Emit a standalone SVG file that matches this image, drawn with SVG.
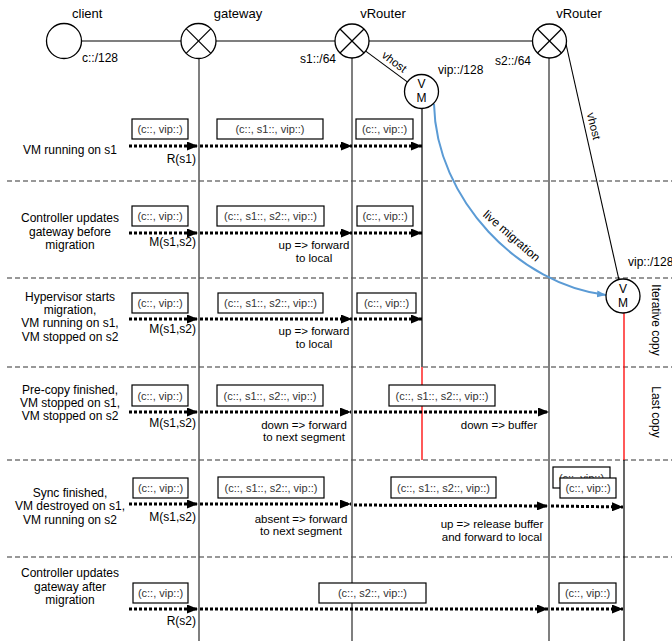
<svg xmlns="http://www.w3.org/2000/svg" width="672" height="641" viewBox="0 0 672 641">
<defs>
<marker id="ah" markerUnits="userSpaceOnUse" markerWidth="11" markerHeight="9" refX="11" refY="4.5" orient="auto"><path d="M0,0 L11,4.5 L0,9 z" fill="#000"/></marker>
<marker id="bh" markerUnits="userSpaceOnUse" markerWidth="9" markerHeight="7" refX="9" refY="3.5" orient="auto"><path d="M0,0 L9,3.5 L0,7 z" fill="#5B9BD5"/></marker>
<style>
text{font-family:"Liberation Sans",Arial,sans-serif;fill:#000}
.hd{font-size:13px}
.ad{font-size:12px}
.lb{font-size:12px;text-anchor:middle}
.an{font-size:11.5px}
.bx{fill:#fff;stroke:#000;stroke-width:1.2}
.bt{font-size:11px;fill:#333;text-anchor:middle}
.node{fill:#fff;stroke:#000;stroke-width:1.3}
.x{stroke:#000;stroke-width:1.2}
.sep{stroke:#333;stroke-width:1.2;stroke-dasharray:5 3;fill:none}
.life{stroke:#555;stroke-width:1.5}
.dot{stroke:#000;stroke-width:3;stroke-dasharray:3 2;fill:none;marker-end:url(#ah)}
.red{stroke:#f00;stroke-width:1.3}
</style>
</defs>

<g id="separators">
<line class="sep" x1="7" y1="181" x2="672" y2="181"/>
<line class="sep" x1="7" y1="278" x2="672" y2="278"/>
<line class="sep" x1="7" y1="367" x2="672" y2="367"/>
<line class="sep" x1="7" y1="460" x2="672" y2="460"/>
<line class="sep" x1="7" y1="557" x2="672" y2="557"/>
</g>

<g id="lifelines">
<line class="life" x1="199" y1="58" x2="199" y2="641"/>
<line class="life" x1="352" y1="58" x2="352" y2="641"/>
<line class="life" x1="549" y1="58" x2="549" y2="641"/>
<line stroke="#000" stroke-width="1.2" x1="422" y1="109" x2="422" y2="367"/>
<line class="red" x1="422" y1="367" x2="422" y2="460"/>
<line class="red" x1="624" y1="313" x2="624" y2="460"/>
<line stroke="#000" stroke-width="1.2" x1="624" y1="460" x2="624" y2="641"/>
</g>

<g id="connectors">
<line stroke="#000" stroke-width="1.2" x1="82" y1="41" x2="181" y2="41"/>
<line stroke="#000" stroke-width="1.2" x1="216" y1="41" x2="335" y2="41"/>
<line stroke="#000" stroke-width="1.2" x1="369" y1="41" x2="532" y2="41"/>
<line stroke="#000" stroke-width="1.1" x1="365.7" y1="51.1" x2="407.3" y2="81.9"/>
<line stroke="#000" stroke-width="1.1" x1="566" y1="44" x2="619" y2="280"/>
<path d="M434,104 C436,200 520,285 606,295" fill="none" stroke="#5B9BD5" stroke-width="2" marker-end="url(#bh)"/>
<!-- row 1 -->
<line class="dot" x1="129" y1="146" x2="198" y2="146"/>
<line class="dot" x1="200" y1="146" x2="352" y2="146"/>
<line class="dot" x1="354" y1="146" x2="422" y2="146"/>
<!-- row 2 -->
<line class="dot" x1="129" y1="233" x2="198" y2="233"/>
<line class="dot" x1="200" y1="233" x2="352" y2="233"/>
<line class="dot" x1="354" y1="233" x2="422" y2="233"/>
<!-- row 3 -->
<line class="dot" x1="129" y1="319" x2="198" y2="319"/>
<line class="dot" x1="200" y1="319" x2="352" y2="319"/>
<line class="dot" x1="354" y1="319" x2="422" y2="319"/>
<!-- row 4 -->
<line class="dot" x1="129" y1="412" x2="198" y2="412"/>
<line class="dot" x1="200" y1="412" x2="351" y2="412"/>
<line class="dot" x1="354" y1="412" x2="549" y2="412"/>
<!-- row 5 -->
<line class="dot" x1="129" y1="504" x2="198" y2="504"/>
<line class="dot" x1="200" y1="504" x2="351" y2="504"/>
<line class="dot" x1="354" y1="505" x2="548" y2="506"/>
<line class="dot" x1="551" y1="506" x2="623" y2="507"/>
<!-- row 6 -->
<line class="dot" x1="129" y1="609" x2="198" y2="609"/>
<line class="dot" x1="200" y1="609" x2="548" y2="609"/>
<line class="dot" x1="551" y1="609" x2="623" y2="609"/>
</g>

<g id="client">
<circle class="node" cx="64" cy="41" r="17.5"/>
<text class="hd" x="72" y="18">client</text>
<text class="ad" x="82" y="62">c::/128</text>
</g>
<g id="gateway">
<circle class="node" cx="198.5" cy="41" r="17.5"/>
<line class="x" x1="186.1" y1="28.6" x2="210.9" y2="53.4"/>
<line class="x" x1="210.9" y1="28.6" x2="186.1" y2="53.4"/>
<text class="hd" x="238" y="18" text-anchor="middle">gateway</text>
</g>
<g id="vrouter1">
<circle class="node" cx="352" cy="41" r="17"/>
<line class="x" x1="340" y1="29" x2="364" y2="53"/>
<line class="x" x1="364" y1="29" x2="340" y2="53"/>
<text class="hd" x="383" y="18" text-anchor="middle">vRouter</text>
<text class="ad" x="336" y="63" text-anchor="end">s1::/64</text>
</g>
<g id="vrouter2">
<circle class="node" cx="549.5" cy="41" r="17"/>
<line class="x" x1="537.5" y1="29" x2="561.5" y2="53"/>
<line class="x" x1="561.5" y1="29" x2="537.5" y2="53"/>
<text class="hd" x="579" y="18" text-anchor="middle">vRouter</text>
<text class="ad" x="531" y="65" text-anchor="end">s2::/64</text>
</g>
<g id="vm1">
<circle class="node" cx="421.5" cy="91.5" r="17"/>
<text class="ad" x="421.5" y="88" text-anchor="middle">V</text>
<text class="ad" x="421.5" y="102" text-anchor="middle">M</text>
<text class="ad" x="438" y="74">vip::/128</text>
<text class="an" x="0" y="0" text-anchor="middle" transform="translate(392,65) rotate(36.5)">vhost</text>
</g>
<g id="vm2">
<circle class="node" cx="623" cy="296" r="17"/>
<text class="ad" x="623" y="292.5" text-anchor="middle">V</text>
<text class="ad" x="623" y="306.5" text-anchor="middle">M</text>
<text class="ad" x="628" y="266">vip::/128</text>
<text class="an" x="0" y="0" text-anchor="middle" transform="translate(590,127) rotate(76)">vhost</text>
</g>
<g id="labels">
<text class="ad" x="0" y="0" text-anchor="middle" transform="translate(509,239) rotate(41)">live migration</text>
<text class="ad" x="0" y="0" text-anchor="middle" transform="translate(652,320) rotate(90)">Iterative copy</text>
<text class="ad" x="0" y="0" text-anchor="middle" transform="translate(652,412) rotate(90)">Last copy</text>
</g>

<g id="row1">
<text class="lb" x="70" y="154">VM running on s1</text>
<rect class="bx" x="132" y="119" width="56" height="20"/><text class="bt" x="160" y="133">(c::, vip::)</text>
<rect class="bx" x="217" y="119" width="106" height="20"/><text class="bt" x="270" y="133">(c::, s1::, vip::)</text>
<rect class="bx" x="356" y="119" width="57" height="20"/><text class="bt" x="384.5" y="133">(c::, vip::)</text>
<text class="ad" x="196" y="163" text-anchor="end">R(s1)</text>
</g>
<g id="row2">
<text class="lb" x="70" y="222">Controller updates</text>
<text class="lb" x="70" y="236">gateway before</text>
<text class="lb" x="70" y="249">migration</text>
<rect class="bx" x="132" y="206" width="56" height="20"/><text class="bt" x="160" y="220">(c::, vip::)</text>
<rect class="bx" x="217" y="206" width="107" height="20"/><text class="bt" x="270.5" y="220">(c::, s1::, s2::, vip::)</text>
<rect class="bx" x="357" y="206" width="56" height="20"/><text class="bt" x="385" y="220">(c::, vip::)</text>
<text class="ad" x="196" y="246" text-anchor="end">M(s1,s2)</text>
<text class="an" x="314" y="249" text-anchor="middle">up =&gt; forward</text>
<text class="an" x="314" y="262" text-anchor="middle">to local</text>
</g>
<g id="row3">
<text class="lb" x="70" y="301">Hypervisor starts</text>
<text class="lb" x="70" y="314">migration,</text>
<text class="lb" x="70" y="327">VM running on s1,</text>
<text class="lb" x="70" y="341">VM stopped on s2</text>
<rect class="bx" x="132" y="293" width="56" height="20"/><text class="bt" x="160" y="307">(c::, vip::)</text>
<rect class="bx" x="218" y="293" width="105" height="20"/><text class="bt" x="270.5" y="307">(c::, s1::, s2::, vip::)</text>
<rect class="bx" x="357" y="293" width="59" height="20"/><text class="bt" x="386.5" y="307">(c::, vip::)</text>
<text class="ad" x="196" y="333" text-anchor="end">M(s1,s2)</text>
<text class="an" x="314" y="335" text-anchor="middle">up =&gt; forward</text>
<text class="an" x="314" y="348" text-anchor="middle">to local</text>
</g>
<g id="row4">
<text class="lb" x="70" y="394">Pre-copy finished,</text>
<text class="lb" x="70" y="407">VM stopped on s1,</text>
<text class="lb" x="70" y="420">VM stopped on s2</text>
<rect class="bx" x="132" y="385" width="56" height="21"/><text class="bt" x="160" y="399.5">(c::, vip::)</text>
<rect class="bx" x="217" y="385" width="106" height="21"/><text class="bt" x="270" y="399.5">(c::, s1::, s2::, vip::)</text>
<rect class="bx" x="389" y="385" width="106" height="21"/><text class="bt" x="442" y="399.5">(c::, s1::, s2::, vip::)</text>
<text class="ad" x="196" y="427" text-anchor="end">M(s1,s2)</text>
<text class="an" x="304" y="429" text-anchor="middle">down =&gt; forward</text>
<text class="an" x="304" y="441" text-anchor="middle">to next segment</text>
<text class="an" x="499" y="429" text-anchor="middle">down =&gt; buffer</text>
</g>
<g id="row5">
<text class="lb" x="70" y="497">Sync finished,</text>
<text class="lb" x="70" y="510">VM destroyed on s1,</text>
<text class="lb" x="70" y="524">VM running on s2</text>
<rect class="bx" x="133" y="478" width="55" height="20"/><text class="bt" x="160.5" y="492">(c::, vip::)</text>
<rect class="bx" x="218" y="477" width="106" height="21"/><text class="bt" x="271" y="491.5">(c::, s1::, s2::, vip::)</text>
<rect class="bx" x="391" y="477" width="105" height="21"/><text class="bt" x="443.5" y="491.5">(c::, s1::, s2::, vip::)</text>
<rect class="bx" x="553" y="467" width="57" height="21"/><text class="bt" x="581.5" y="481.5">(c::, vip::)</text>
<rect class="bx" x="560" y="478" width="56" height="20"/><text class="bt" x="588" y="492">(c::, vip::)</text>
<text class="ad" x="196" y="521" text-anchor="end">M(s1,s2)</text>
<text class="an" x="301" y="523" text-anchor="middle">absent =&gt; forward</text>
<text class="an" x="301" y="535" text-anchor="middle">to next segment</text>
<text class="an" x="492" y="528" text-anchor="middle">up =&gt; release buffer</text>
<text class="an" x="492" y="541" text-anchor="middle">and forward to local</text>
</g>
<g id="row6">
<text class="lb" x="70" y="577">Controller updates</text>
<text class="lb" x="70" y="591">gateway after</text>
<text class="lb" x="70" y="604">migration</text>
<rect class="bx" x="133" y="583" width="55" height="20"/><text class="bt" x="160.5" y="597">(c::, vip::)</text>
<rect class="bx" x="319" y="583" width="107" height="20"/><text class="bt" x="372.5" y="597">(c::, s2::, vip::)</text>
<rect class="bx" x="559" y="583" width="57" height="20"/><text class="bt" x="587.5" y="597">(c::, vip::)</text>
<text class="ad" x="196" y="625" text-anchor="end">R(s2)</text>
</g>
</svg>
